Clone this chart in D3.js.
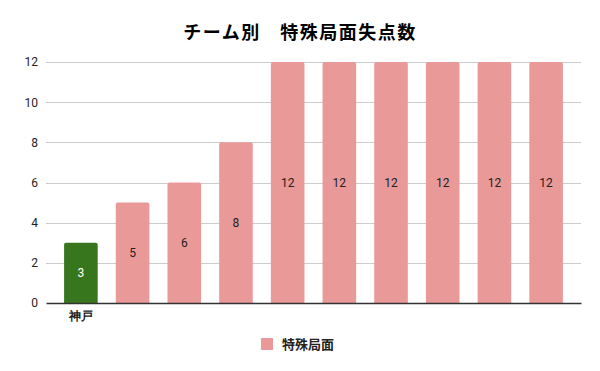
<!DOCTYPE html>
<html>
<head>
<meta charset="utf-8">
<script src="https://cdn.jsdelivr.net/npm/d3@7"></script>
<style>
  html, body { margin:0; padding:0; background:#fff; }
  svg { display:block; font-family:"Noto Sans CJK JP", "Noto Sans", sans-serif; }
</style>
</head>
<body>
<div id="chart"></div>
<script>
// チーム別 特殊局面失点数 -- single series bar chart

const TITLE = "チーム別\u3000特殊局面失点数";
const SERIES_NAME = "特殊局面";
const CATEGORIES = ["神戸", "t2", "t3", "t4", "t5", "t6", "t7", "t8", "t9", "t10"];
const CAT_LABELS = ["神戸", "", "", "", "", "", "", "", "", ""];
const VALUES = [3, 5, 6, 8, 12, 12, 12, 12, 12, 12];
const Y_TICKS = [0, 2, 4, 6, 8, 10, 12];

const COL_MAIN = "#ea9999";
const COL_HI = "#38761d";

const totalW = 600, totalH = 371;
const margin = { top: 62, right: 19, bottom: 68, left: 46 };
const W = totalW - margin.left - margin.right;
const H = totalH - margin.top - margin.bottom;

const svg = d3.select("#chart").append("svg")
  .attr("width", totalW).attr("height", totalH);

svg.append("text")
  .attr("x", 300).attr("y", 39)
  .attr("text-anchor", "middle")
  .attr("fill", "#000")
  .style("font-size", "18px").style("font-weight", "700")
  .style("letter-spacing", "1.5px")
  .text(TITLE);

const g = svg.append("g").attr("transform", `translate(${margin.left},${margin.top})`);

const x = d3.scaleBand().domain(CATEGORIES).range([0, W]).paddingInner(0.35).paddingOuter(0.35);
const y = d3.scaleLinear().domain([0, 12]).range([H, 0]);

// gridlines
g.append("g").selectAll("line").data(Y_TICKS.filter(d => d > 0)).join("line")
  .attr("x1", 0).attr("x2", W)
  .attr("y1", d => Math.round(y(d)) + 0.5).attr("y2", d => Math.round(y(d)) + 0.5)
  .attr("stroke", "#cccccc").attr("stroke-width", 1);

// y axis labels
g.append("g")
  .call(d3.axisLeft(y).tickValues(Y_TICKS).tickSize(0).tickPadding(8).tickFormat(d3.format("d")))
  .call(a => a.select(".domain").remove())
  .call(a => a.selectAll("text")
    .attr("fill", "#222")
    .style("font-family", "Roboto, 'Noto Sans', sans-serif")
    .style("font-size", "12px"));

// bars, slightly rounded tops
const r = 2;
const colorOf = i => i === 0 ? COL_HI : COL_MAIN;
g.append("g").selectAll("path").data(VALUES).join("path")
  .attr("fill", (d, i) => colorOf(i))
  .attr("d", (d, i) => {
    const x0 = x(CATEGORIES[i]), x1 = x0 + x.bandwidth();
    const y0 = y(0), y1 = y(d);
    return `M${x0},${y0}V${y1 + r}Q${x0},${y1} ${x0 + r},${y1}H${x1 - r}Q${x1},${y1} ${x1},${y1 + r}V${y0}Z`;
  });

// value labels
g.append("g").selectAll("text").data(VALUES).join("text")
  .attr("x", (d, i) => x(CATEGORIES[i]) + x.bandwidth() / 2)
  .attr("y", d => (y(0) + y(d)) / 2)
  .attr("dy", "0.36em")
  .attr("text-anchor", "middle")
  .attr("fill", (d, i) => i === 0 ? "#ffffff" : "#222")
  .style("font-family", "Roboto, 'Noto Sans', sans-serif")
  .style("font-size", "12px")
  .text(d => d);

// x axis
g.append("g").attr("transform", `translate(0,${H})`)
  .call(d3.axisBottom(x).tickSize(0).tickPadding(8).tickFormat((d, i) => CAT_LABELS[i]))
  .call(a => a.select(".domain").attr("stroke", "#333").attr("stroke-width", 1.5))
  .call(a => a.selectAll("text")
    .attr("fill", "#222")
    .style("font-size", "12px").style("font-weight", "700"));

// legend
const lg = svg.append("g").attr("transform", "translate(261,338)");
lg.append("rect").attr("width", 12).attr("height", 12).attr("fill", COL_MAIN);
lg.append("text").attr("x", 21).attr("y", 6).attr("dy", "0.36em")
  .attr("fill", "#222")
  .style("font-size", "13px").style("font-weight", "700")
  .text(SERIES_NAME);
</script>
</body>
</html>
